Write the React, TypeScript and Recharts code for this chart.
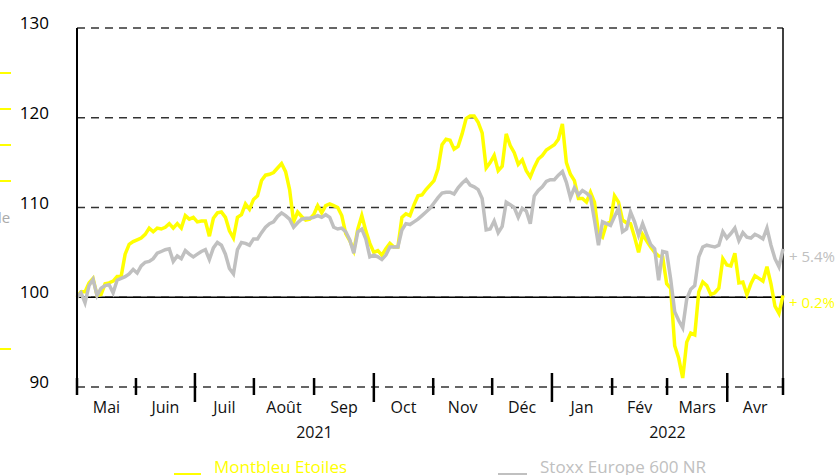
import React from 'react';
import { LineChart, Line, XAxis, YAxis, CartesianGrid, ReferenceLine } from 'recharts';

// Montbleu Etoiles vs Stoxx Europe 600 NR, base 100 (one value every ~1.5 trading days)
const fund = [
  100.0, 100.6, 100.6, 101.6, 102.1, 100.2, 100.3, 101.5, 101.6, 101.8,
  102.3, 102.3, 104.8, 105.9, 106.2, 106.4, 106.6, 107.0, 107.7, 107.3,
  107.7, 107.6, 107.8, 108.2, 107.7, 108.2, 107.7, 109.1, 108.7, 108.9,
  108.4, 108.5, 108.5, 106.8, 108.8, 109.4, 109.5, 108.9, 107.4, 106.6,
  108.9, 109.2, 110.4, 109.8, 110.9, 111.3, 113.0, 113.6, 113.7, 113.9,
  114.4, 114.9, 114.0, 112.0, 108.4, 109.5, 109.0, 108.6, 108.7, 109.2,
  110.2, 109.4, 110.2, 110.4, 110.2, 110.0, 109.1, 107.1, 106.3, 105.2,
  107.6, 109.1, 107.4, 106.0, 105.0, 105.2, 104.7, 105.4, 106.0, 105.6,
  105.6, 108.9, 109.3, 109.1, 110.3, 111.3, 111.4, 112.0, 112.5, 113.0,
  114.3, 117.0, 117.6, 117.5, 116.5, 116.8, 118.2, 119.9, 120.2, 120.2,
  119.5, 118.3, 114.4, 115.0, 115.8, 114.1, 114.6, 118.2, 116.9, 116.1,
  114.8, 115.3, 114.1, 113.4, 114.5, 115.4, 115.8, 116.4, 116.7, 117.0,
  117.6, 119.3, 115.0, 113.7, 113.0, 111.0, 111.0, 110.6, 111.7, 110.6,
  107.1, 106.7, 108.2, 108.4, 111.3, 110.6, 108.6, 108.3, 108.2, 106.7,
  105.0, 107.0, 106.3, 105.6, 105.0, 104.6, 104.5, 101.5, 101.0, 94.6,
  93.2, 91.0, 95.0, 96.0, 95.8, 100.6, 101.7, 101.3, 100.3, 100.5,
  101.0, 104.3, 103.6, 103.5, 104.9, 101.6, 101.7, 100.3, 101.5, 102.4,
  102.1, 101.8, 103.4, 101.5, 99.0, 98.2, 100.2,
];

const stoxx = [
  100.0, 100.5, 99.4, 101.3, 102.0, 100.2, 101.0, 101.3, 101.4, 100.5,
  101.9, 102.1, 102.3, 102.6, 103.1, 102.7, 103.5, 103.9, 104.0, 104.3,
  104.9, 105.1, 105.3, 105.4, 104.0, 104.6, 104.3, 105.2, 104.8, 104.5,
  104.8, 105.1, 105.3, 104.2, 105.5, 106.1, 105.8, 104.8, 103.2, 102.6,
  105.3, 106.1, 106.0, 105.8, 106.5, 106.5, 107.2, 107.8, 108.2, 108.4,
  109.0, 109.4, 109.1, 108.7, 107.8, 108.3, 108.7, 108.8, 108.8, 108.9,
  109.1, 108.9, 109.2, 108.9, 107.8, 107.6, 107.7, 107.3, 106.4, 104.9,
  107.3, 107.6, 106.5, 104.5, 104.7, 104.5, 104.2, 104.7, 105.6, 105.6,
  105.6, 107.5, 108.2, 108.1, 108.4, 108.7, 109.1, 109.5, 109.9, 110.5,
  111.1, 111.6, 111.7, 111.7, 111.5, 112.2, 112.7, 113.1, 112.5, 112.3,
  112.0, 111.0, 107.5, 107.6, 108.5, 107.2, 107.9, 110.6, 110.3, 110.0,
  108.9, 109.9, 109.6, 108.2, 111.3, 111.9, 112.3, 112.9, 113.1, 113.1,
  113.6, 114.0, 112.8, 111.1, 112.2, 111.4, 111.9, 111.6, 111.2, 108.6,
  105.8, 108.4, 108.2, 108.0, 109.0, 109.9, 107.3, 107.6, 109.5, 108.4,
  106.9, 108.2, 107.0, 105.9, 105.4, 101.9, 105.1, 105.0, 102.0, 98.4,
  97.4, 96.6, 99.8, 100.9, 101.3, 104.5, 105.6, 105.8, 105.7, 105.6,
  105.8, 107.3, 106.6, 107.1, 107.7, 106.3, 107.2, 106.7, 106.6, 107.0,
  106.8, 106.5, 107.7, 105.8, 104.3, 103.4, 105.4,
];

// month boundaries, in the same index units as the series
const monthStarts = [0, 14.7, 29.4, 44.1, 59.1, 74.0, 88.8, 103.5, 118.4, 133.4, 147.1, 162.1, 176];
const monthNames = ['Mai', 'Juin', 'Juil', 'Août', 'Sep', 'Oct', 'Nov', 'Déc', 'Jan', 'Fév', 'Mars', 'Avr'];
const quarterStarts = [29.4, 74.0, 118.4, 162.1];
const years = [
  { name: '2021', from: 0, to: 118.4 },
  { name: '2022', from: 118.4, to: 176 },
];
const yTicks = [90, 100, 110, 120, 130];
const fundLabel = '+ 0.2%';
const stoxxLabel = '+ 5.4%';

const data = fund.map((v, i) => ({ i, fund: v, stoxx: stoxx[i] }));

const FONT = '"Open Sans", sans-serif';
const YELLOW = '#ffff00';
const GREY = '#c0c0c0';

type TickInfo = { kind: 'bound' | 'month' | 'year'; text: string };
const tickInfo = new Map<number, TickInfo>();
monthStarts.forEach((v) => tickInfo.set(v, { kind: 'bound', text: '' }));
monthNames.forEach((m, k) => tickInfo.set((monthStarts[k] + monthStarts[k + 1]) / 2, { kind: 'month', text: m }));
years.forEach((y) => tickInfo.set((y.from + y.to) / 2, { kind: 'year', text: y.name }));
const xTicks = Array.from(tickInfo.keys()).sort((a, b) => a - b);

function XTick(props: any) {
  const { x, y, payload } = props;
  const info = tickInfo.get(payload.value);
  if (!info) return null;
  if (info.kind === 'bound') {
    const tall = quarterStarts.includes(payload.value);
    return (
      <line x1={x} x2={x} y1={y - (tall ? 14 : 9)} y2={y + (tall ? 15 : 8)} stroke="#000" strokeWidth={2.5} />
    );
  }
  return (
    <text x={x} y={y + (info.kind === 'month' ? 26 : 51)} textAnchor="middle" fontSize={16} fontFamily={FONT} fill="#111">
      {info.text}
    </text>
  );
}

function YTick(props: any) {
  const { x, y, payload } = props;
  return (
    <text x={x - 28} y={y + 1} textAnchor="end" fontSize={17} fontFamily={FONT} fill="#000">
      {payload.value}
    </text>
  );
}

const endLabel = (text: string, color: string) => (props: any) => {
  if (props.index !== fund.length - 1) return null;
  return (
    <text x={props.x + 6} y={props.y + 13} fontSize={15} fontFamily={FONT} fill={color}>
      {text}
    </text>
  );
};

const leftMarks = [72, 108, 144, 180, 348];

export default function App() {
  return (
    <div style={{ position: 'absolute', left: 0, top: 0, width: 838, height: 475, overflow: 'hidden', background: '#fff' }}>
      <LineChart width={838} height={475} data={data} margin={{ top: 28, right: 55, bottom: 58, left: 17 }}>
        <CartesianGrid vertical={false} stroke="#333" strokeDasharray="8 6" strokeWidth={1.5} />
        <XAxis
          dataKey="i"
          type="number"
          domain={[0, 176]}
          ticks={xTicks}
          interval={0}
          height={30}
          axisLine={false}
          tickLine={false}
          tickSize={0}
          tickMargin={0}
          tick={<XTick />}
        />
        <YAxis
          domain={[90, 130]}
          ticks={yTicks}
          width={60}
          axisLine={{ stroke: '#000', strokeWidth: 2 }}
          tickLine={false}
          tickSize={0}
          tickMargin={0}
          tick={<YTick />}
        />
        <ReferenceLine y={100} stroke="#000" strokeWidth={1.5} />
        <ReferenceLine x={176} stroke="#000" strokeWidth={1.5} />
        <Line
          dataKey="fund"
          stroke={YELLOW}
          strokeWidth={3.5}
          dot={false}
          type="linear"
          isAnimationActive={false}
          label={endLabel(fundLabel, YELLOW)}
        />
        <Line
          dataKey="stoxx"
          stroke={GREY}
          strokeWidth={3.5}
          dot={false}
          type="linear"
          isAnimationActive={false}
          label={endLabel(stoxxLabel, GREY)}
        />
      </LineChart>
      {leftMarks.map((t) => (
        <div key={t} style={{ position: 'absolute', left: 0, top: t, width: 11, height: 1.5, background: YELLOW }} />
      ))}
      <div style={{ position: 'absolute', left: -2, top: 207, fontFamily: FONT, fontSize: 15, color: '#aaa' }}>le</div>
      <div style={{ position: 'absolute', left: 174, top: 473, width: 27, height: 2, background: YELLOW }} />
      <div style={{ position: 'absolute', left: 214, top: 455, fontFamily: FONT, fontSize: 17, color: YELLOW, lineHeight: '24px' }}>
        Montbleu Etoiles
      </div>
      <div style={{ position: 'absolute', left: 498, top: 473, width: 29, height: 2, background: GREY }} />
      <div style={{ position: 'absolute', left: 540, top: 455, fontFamily: FONT, fontSize: 17, color: GREY, lineHeight: '24px' }}>
        Stoxx Europe 600 NR
      </div>
    </div>
  );
}
